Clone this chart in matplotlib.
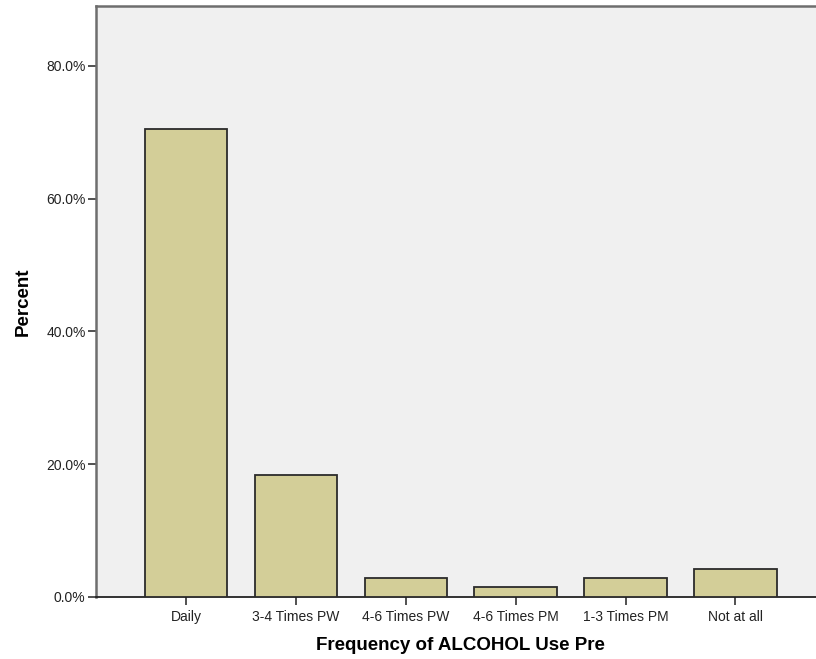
import matplotlib
matplotlib.use("Agg")
import matplotlib.pyplot as plt
from matplotlib.ticker import FuncFormatter

categories = ['Daily', '3-4 Times PW', '4-6 Times PW', '4-6 Times PM',
              '1-3 Times PM', 'Not at all']
percent = [70.5, 18.4, 2.9, 1.5, 2.9, 4.2]
y_ticks = [0, 20, 40, 60, 80]

plt.rcParams['font.family'] = ['Liberation Sans', 'DejaVu Sans']

fig = plt.figure(figsize=(8.16, 6.59), dpi=100)
# axes run slightly past the right edge of the figure (cropped like the original)
ax = fig.add_axes([96 / 816, 62 / 659, 729.5 / 816, 591 / 659])
ax.set_facecolor('#F0F0F0')

x = range(len(categories))
ax.bar(x, percent, width=0.75, color='#D3CE98', edgecolor='#2b2b2b',
       linewidth=1.3, zorder=3)

ax.set_xlim(-0.82, len(categories) - 1 + 0.82)
ax.set_ylim(0, 89.0)
ax.set_yticks(y_ticks)
ax.yaxis.set_major_formatter(FuncFormatter(lambda v, p: f"{v:.1f}%"))
ax.set_xticks(list(x))
ax.set_xticklabels(categories)

ax.tick_params(axis='both', direction='out', length=6, width=1.2,
               color='#333333', labelsize=10, labelcolor='#222222')
ax.tick_params(axis='x', pad=3.5)
ax.tick_params(axis='y', pad=1.5)

for side in ['left', 'top']:
    ax.spines[side].set_color('#6e6e6e')
    ax.spines[side].set_linewidth(1.8)
ax.spines['bottom'].set_color('#222222')
ax.spines['bottom'].set_linewidth(1.3)
ax.spines['right'].set_visible(False)

ax.set_xlabel('Frequency of ALCOHOL Use Pre', fontsize=13.5, fontweight='bold',
              labelpad=9)
ax.set_ylabel('Percent', fontsize=13.5, fontweight='bold', labelpad=10)

fig.savefig('out.png', dpi=100)
